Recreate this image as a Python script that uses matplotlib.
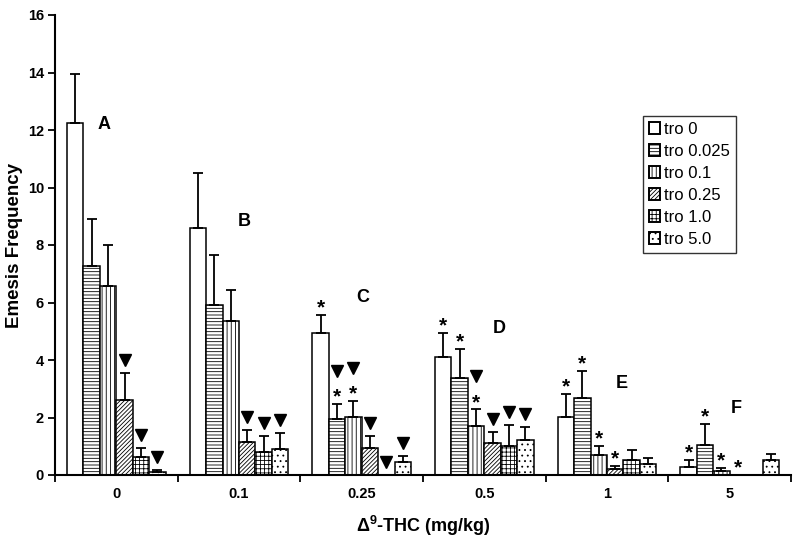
import matplotlib
matplotlib.use("Agg")
import matplotlib.pyplot as plt
import numpy as np

plt.rcParams['font.family'] = ['Liberation Sans', 'DejaVu Sans']
plt.rcParams['hatch.linewidth'] = 0.6
plt.rcParams['mathtext.fontset'] = 'custom'
plt.rcParams['mathtext.rm'] = 'Liberation Sans'
plt.rcParams['mathtext.bf'] = 'Liberation Sans:bold'

# ---- data ----
thc_doses = ['0', '0.1', '0.25', '0.5', '1', '5']
series_names = ['tro 0', 'tro 0.025', 'tro 0.1', 'tro 0.25', 'tro 1.0', 'tro 5.0']
group_letters = ['A', 'B', 'C', 'D', 'E', 'F']

tro_0     = [12.23, 8.60, 4.95, 4.12, 2.03, 0.28]
tro_0025  = [7.28, 5.91, 1.95, 3.36, 2.67, 1.03]
tro_01    = [6.58, 5.34, 2.02, 1.70, 0.68, 0.15]
tro_025   = [2.61, 1.14, 0.95, 1.12, 0.21, 0.00]
tro_10    = [0.61, 0.79, 0.00, 1.02, 0.52, 0.00]
tro_50    = [0.10, 0.90, 0.45, 1.22, 0.39, 0.52]

err_0     = [1.72, 1.92, 0.63, 0.81, 0.79, 0.24]
err_0025  = [1.62, 1.74, 0.52, 1.01, 0.96, 0.74]
err_01    = [1.41, 1.08, 0.55, 0.58, 0.34, 0.10]
err_025   = [0.93, 0.43, 0.41, 0.39, 0.10, 0.00]
err_10    = [0.34, 0.58, 0.00, 0.73, 0.35, 0.00]
err_50    = [0.07, 0.57, 0.21, 0.46, 0.19, 0.20]

# significance marks: '*' vs vehicle, 'v' vs tro 0 within dose
sig_0     = ['', '', '*', '*', '*', '*']
sig_0025  = ['', '', '*v', '*', '*', '*']
sig_01    = ['', '', '*v', '*v', '*', '*']
sig_025   = ['v', 'v', 'v', 'v', '*', '*']
sig_10    = ['v', 'v', 'v', 'v', '', '']
sig_50    = ['v', 'v', 'v', 'v', '', '']

letter_dx = [-0.10, 0.04, 0.01, 0.12, 0.12, 0.05]
letter_y  = [12.2, 8.83, 6.19, 5.11, 3.20, 2.33]

values = [tro_0, tro_0025, tro_01, tro_025, tro_10, tro_50]
errors = [err_0, err_0025, err_01, err_025, err_10, err_50]
sigs   = [sig_0, sig_0025, sig_01, sig_025, sig_10, sig_50]
hatches = ['', '-----', '||||', '////////', '++++', '...']

# ---- figure ----
fig = plt.figure(figsize=(8, 5.45), dpi=100)
ax = fig.add_axes([55/800, 70/545, 736/800, 460/545])

n = len(series_names)
bw = 0.134
x = np.arange(len(thc_doses))
px_per_unit = 460 / 16.0
star_shift = matplotlib.transforms.ScaledTranslation(0, -4/100, fig.dpi_scale_trans)

for i in range(n):
    xs = x + (i - (n - 1) / 2) * bw
    ax.bar(xs, values[i], width=bw, color='white', edgecolor='black',
           linewidth=1.1, hatch=hatches[i], label=series_names[i], zorder=2)
    ax.errorbar(xs, values[i], yerr=[np.zeros(len(x)), errors[i]], fmt='none',
                ecolor='black', elinewidth=1.3, capsize=3.5, capthick=1.3, zorder=3)
    for j in range(len(x)):
        top = values[i][j] + errors[i][j]
        s = sigs[i][j]
        if '*' in s:
            ystar = top + 11 / px_per_unit
            ax.text(xs[j], ystar, '*', ha='center', va='center', fontsize=15,
                    fontweight='bold', zorder=4, transform=ax.transData + star_shift)
            if 'v' in s:
                ax.plot(xs[j], ystar + 22 / px_per_unit, marker='v', color='black',
                        markersize=9, zorder=4, clip_on=False)
        elif 'v' in s:
            ax.plot(xs[j], top + 13 / px_per_unit, marker='v', color='black',
                    markersize=9, zorder=4, clip_on=False)

for j in range(len(x)):
    ax.text(x[j] + letter_dx[j], letter_y[j], group_letters[j], ha='center', va='center',
            fontsize=13, fontweight='bold')

ax.set_xlim(-0.5, len(x) - 0.5)
ax.set_ylim(0, 16)
ax.set_yticks(np.arange(0, 17, 2))
ax.set_xticks(np.arange(len(x) + 1) - 0.5)
ax.set_xticklabels([])
ax.set_xticks(x, minor=True)
ax.set_xticklabels(thc_doses, minor=True)
ax.tick_params(axis='x', which='minor', length=0, pad=9)
ax.tick_params(axis='x', which='major', length=5, width=1.3, direction='out')
ax.tick_params(axis='y', length=5, width=1.3, direction='out', pad=3)
for lab in ax.get_xticklabels(minor=True) + ax.get_yticklabels():
    lab.set_fontsize(10.5)
    lab.set_fontweight('bold')

for sp in ['top', 'right']:
    ax.spines[sp].set_visible(False)
for sp in ['left', 'bottom']:
    ax.spines[sp].set_linewidth(1.5)

ax.set_ylabel('Emesis Frequency', fontsize=13.5, fontweight='bold')
ax.yaxis.set_label_coords(-0.043, 0.5)
ax.set_xlabel(r'$\mathbf{\Delta^{9}}$-THC (mg/kg)', fontsize=13, fontweight='bold')
ax.xaxis.set_label_coords(0.5, -0.085)

leg = ax.legend(loc='upper left', bbox_to_anchor=(643/800, 1 - 116/545),
                bbox_transform=fig.transFigure, fontsize=12, frameon=True,
                fancybox=False, handlelength=0.65, handleheight=0.65,
                handletextpad=0.25, labelspacing=0.42, borderpad=0.35,
                borderaxespad=0)
leg.get_frame().set_edgecolor('black')
leg.get_frame().set_linewidth(1.0)
for h in leg.legend_handles:
    h.set_linewidth(1.4)

fig.savefig('out.png', dpi=100)
